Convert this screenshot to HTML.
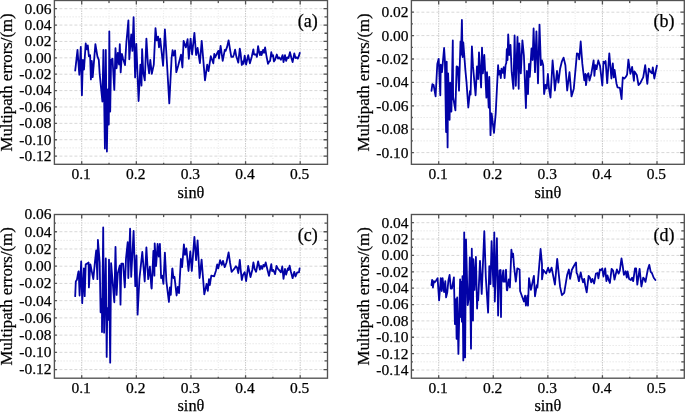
<!DOCTYPE html><html><head><meta charset="utf-8"><style>html,body{margin:0;padding:0;background:#fff;}svg{display:block;will-change:transform}text{font-family:"Liberation Serif",serif;fill:#000;stroke:#000;stroke-width:0.25px}</style></head><body>
<svg width="685" height="412" viewBox="0 0 685 412">
<line x1="81.71" y1="0.5" x2="81.71" y2="164.3" stroke="#c8c8c8" stroke-width="1" stroke-dasharray="1.5 1"/>
<line x1="109.02" y1="0.5" x2="109.02" y2="164.3" stroke="#e8e8e8" stroke-width="1" stroke-dasharray="1 1.5"/>
<line x1="136.33" y1="0.5" x2="136.33" y2="164.3" stroke="#c8c8c8" stroke-width="1" stroke-dasharray="1.5 1"/>
<line x1="163.64" y1="0.5" x2="163.64" y2="164.3" stroke="#e8e8e8" stroke-width="1" stroke-dasharray="1 1.5"/>
<line x1="190.95" y1="0.5" x2="190.95" y2="164.3" stroke="#c8c8c8" stroke-width="1" stroke-dasharray="1.5 1"/>
<line x1="218.26" y1="0.5" x2="218.26" y2="164.3" stroke="#e8e8e8" stroke-width="1" stroke-dasharray="1 1.5"/>
<line x1="245.57" y1="0.5" x2="245.57" y2="164.3" stroke="#c8c8c8" stroke-width="1" stroke-dasharray="1.5 1"/>
<line x1="272.88" y1="0.5" x2="272.88" y2="164.3" stroke="#e8e8e8" stroke-width="1" stroke-dasharray="1 1.5"/>
<line x1="300.19" y1="0.5" x2="300.19" y2="164.3" stroke="#c8c8c8" stroke-width="1" stroke-dasharray="1.5 1"/>
<line x1="54.4" y1="156.11" x2="327.5" y2="156.11" stroke="#d8d8d8" stroke-width="1" stroke-dasharray="3 2"/>
<line x1="54.4" y1="147.92" x2="327.5" y2="147.92" stroke="#e8e8e8" stroke-width="1" stroke-dasharray="1.5 1.5"/>
<line x1="54.4" y1="139.73" x2="327.5" y2="139.73" stroke="#d8d8d8" stroke-width="1" stroke-dasharray="3 2"/>
<line x1="54.4" y1="131.54" x2="327.5" y2="131.54" stroke="#e8e8e8" stroke-width="1" stroke-dasharray="1.5 1.5"/>
<line x1="54.4" y1="123.35" x2="327.5" y2="123.35" stroke="#d8d8d8" stroke-width="1" stroke-dasharray="3 2"/>
<line x1="54.4" y1="115.16" x2="327.5" y2="115.16" stroke="#e8e8e8" stroke-width="1" stroke-dasharray="1.5 1.5"/>
<line x1="54.4" y1="106.97" x2="327.5" y2="106.97" stroke="#d8d8d8" stroke-width="1" stroke-dasharray="3 2"/>
<line x1="54.4" y1="98.78" x2="327.5" y2="98.78" stroke="#e8e8e8" stroke-width="1" stroke-dasharray="1.5 1.5"/>
<line x1="54.4" y1="90.59" x2="327.5" y2="90.59" stroke="#d8d8d8" stroke-width="1" stroke-dasharray="3 2"/>
<line x1="54.4" y1="82.40" x2="327.5" y2="82.40" stroke="#e8e8e8" stroke-width="1" stroke-dasharray="1.5 1.5"/>
<line x1="54.4" y1="74.21" x2="327.5" y2="74.21" stroke="#d8d8d8" stroke-width="1" stroke-dasharray="3 2"/>
<line x1="54.4" y1="66.02" x2="327.5" y2="66.02" stroke="#e8e8e8" stroke-width="1" stroke-dasharray="1.5 1.5"/>
<line x1="54.4" y1="57.83" x2="327.5" y2="57.83" stroke="#d8d8d8" stroke-width="1" stroke-dasharray="3 2"/>
<line x1="54.4" y1="49.64" x2="327.5" y2="49.64" stroke="#e8e8e8" stroke-width="1" stroke-dasharray="1.5 1.5"/>
<line x1="54.4" y1="41.45" x2="327.5" y2="41.45" stroke="#d8d8d8" stroke-width="1" stroke-dasharray="3 2"/>
<line x1="54.4" y1="33.26" x2="327.5" y2="33.26" stroke="#e8e8e8" stroke-width="1" stroke-dasharray="1.5 1.5"/>
<line x1="54.4" y1="25.07" x2="327.5" y2="25.07" stroke="#d8d8d8" stroke-width="1" stroke-dasharray="3 2"/>
<line x1="54.4" y1="16.88" x2="327.5" y2="16.88" stroke="#e8e8e8" stroke-width="1" stroke-dasharray="1.5 1.5"/>
<line x1="54.4" y1="8.69" x2="327.5" y2="8.69" stroke="#d8d8d8" stroke-width="1" stroke-dasharray="3 2"/>
<polyline points="75.2,70.7 77.5,49.9 79.3,74.8 80.8,46.8 81.9,95.2 82.9,59.9 84.0,69.5 85.7,43.5 86.8,49.4 87.8,45.3 88.9,56.4 90.1,55.2 90.9,79.4 91.8,61.0 92.7,77.1 95.4,44.1 97.4,56.4 98.8,59.9 99.7,74.2 102.4,101.6 103.4,49.9 104.9,148.5 105.8,49.9 106.9,151.5 107.9,89.4 108.8,124.6 109.3,31.3 110.2,111.5 111.1,59.9 112.5,58.7 114.3,89.9 115.5,48.2 116.6,68.3 117.8,52.9 119.0,64.5 119.8,44.1 120.7,72.4 121.9,54.0 123.1,58.7 125.0,65.1 126.3,43.5 128.4,20.3 129.3,59.3 131.2,34.5 132.4,50.9 133.6,17.2 135.1,77.4 136.3,43.9 138.6,101.0 140.4,64.6 141.5,85.6 142.1,49.1 143.3,72.8 144.8,80.4 146.4,38.6 147.9,64.0 149.1,73.4 150.3,59.9 151.8,73.9 153.8,64.6 155.5,28.1 156.7,40.4 158.1,36.6 159.0,47.4 160.2,38.6 163.1,65.8 164.9,29.3 166.6,57.0 169.3,103.4 171.6,58.0 172.6,50.2 173.7,55.5 175.1,50.5 176.3,72.2 178.3,65.2 181.0,54.7 182.4,67.5 183.6,40.9 185.9,47.4 187.6,39.2 188.8,58.8 190.6,38.6 192.1,54.5 194.4,32.8 196.1,55.0 197.6,48.0 199.9,63.2 201.7,40.8 205.0,80.4 207.2,64.6 208.5,71.2 210.8,56.2 213.3,63.3 214.3,53.9 215.1,57.4 218.3,50.9 219.0,58.5 220.6,45.9 222.7,60.9 224.8,49.8 225.6,50.9 227.1,46.9 228.6,40.3 230.1,49.9 231.3,56.9 233.0,56.9 233.9,54.5 235.1,49.6 236.3,56.3 237.4,59.8 238.3,62.7 239.8,48.7 240.6,53.4 241.8,65.0 242.9,61.5 243.5,63.9 244.7,55.7 246.1,64.5 248.2,55.1 249.9,63.3 251.7,56.9 253.4,49.3 254.0,54.5 256.1,54.5 256.9,56.9 258.1,46.1 259.3,52.8 259.9,55.1 261.0,51.6 261.6,55.1 263.1,49.9 264.0,52.8 265.1,47.5 266.3,55.1 268.0,63.9 269.2,61.5 270.1,60.9 271.3,52.2 272.1,56.3 273.1,55.1 273.9,61.5 275.1,59.8 276.8,54.5 278.0,58.6 279.1,57.4 280.9,59.8 282.6,55.1 283.5,62.1 285.0,55.1 286.1,60.9 287.3,57.4 288.5,58.0 290.0,52.2 291.4,58.0 292.6,62.1 294.3,53.4 295.5,58.0 296.7,57.4 297.8,58.6 299.0,55.7 299.8,52.8" fill="none" stroke="#0202a6" stroke-width="1.8" stroke-linejoin="round" stroke-linecap="round"/>
<path d="M54.4,156.11h2.5M327.5,156.11h-4.0M54.4,147.92h1.5M327.5,147.92h-3.0M54.4,139.73h2.5M327.5,139.73h-4.0M54.4,131.54h1.5M327.5,131.54h-3.0M54.4,123.35h2.5M327.5,123.35h-4.0M54.4,115.16h1.5M327.5,115.16h-3.0M54.4,106.97h2.5M327.5,106.97h-4.0M54.4,98.78h1.5M327.5,98.78h-3.0M54.4,90.59h2.5M327.5,90.59h-4.0M54.4,82.40h1.5M327.5,82.40h-3.0M54.4,74.21h2.5M327.5,74.21h-4.0M54.4,66.02h1.5M327.5,66.02h-3.0M54.4,57.83h2.5M327.5,57.83h-4.0M54.4,49.64h1.5M327.5,49.64h-3.0M54.4,41.45h2.5M327.5,41.45h-4.0M54.4,33.26h1.5M327.5,33.26h-3.0M54.4,25.07h2.5M327.5,25.07h-4.0M54.4,16.88h1.5M327.5,16.88h-3.0M54.4,8.69h2.5M327.5,8.69h-4.0M81.71,164.3v-3M81.71,0.5v4M109.02,164.3v-1.5M109.02,0.5v2.5M136.33,164.3v-3M136.33,0.5v4M163.64,164.3v-1.5M163.64,0.5v2.5M190.95,164.3v-3M190.95,0.5v4M218.26,164.3v-1.5M218.26,0.5v2.5M245.57,164.3v-3M245.57,0.5v4M272.88,164.3v-1.5M272.88,0.5v2.5M300.19,164.3v-3M300.19,0.5v4" stroke="#525252" stroke-width="1.3" fill="none"/>
<rect x="54.4" y="0.5" width="273.10" height="163.80" fill="none" stroke="#525252" stroke-width="1.35"/>
<text x="51.60" y="13.59" font-size="15.5" text-anchor="end">0.06</text>
<text x="51.60" y="29.97" font-size="15.5" text-anchor="end">0.04</text>
<text x="51.60" y="46.35" font-size="15.5" text-anchor="end">0.02</text>
<text x="51.60" y="62.73" font-size="15.5" text-anchor="end">0.00</text>
<text x="51.60" y="79.11" font-size="15.5" text-anchor="end">-0.02</text>
<text x="51.60" y="95.49" font-size="15.5" text-anchor="end">-0.04</text>
<text x="51.60" y="111.87" font-size="15.5" text-anchor="end">-0.06</text>
<text x="51.60" y="128.25" font-size="15.5" text-anchor="end">-0.08</text>
<text x="51.60" y="144.63" font-size="15.5" text-anchor="end">-0.10</text>
<text x="51.60" y="161.01" font-size="15.5" text-anchor="end">-0.12</text>
<text x="81.11" y="178.80" font-size="15.5" text-anchor="middle">0.1</text>
<text x="135.73" y="178.80" font-size="15.5" text-anchor="middle">0.2</text>
<text x="190.35" y="178.80" font-size="15.5" text-anchor="middle">0.3</text>
<text x="244.97" y="178.80" font-size="15.5" text-anchor="middle">0.4</text>
<text x="299.59" y="178.80" font-size="15.5" text-anchor="middle">0.5</text>
<text x="190.95" y="197.50" font-size="16.3" text-anchor="middle">sinθ</text>
<text transform="translate(12.20,82.40) rotate(-90)" x="0" y="0" font-size="16.75" text-anchor="middle">Multipath errors/(m)</text>
<text x="317.80" y="26.70" font-size="18" text-anchor="end">(a)</text>
<line x1="438.69" y1="0.5" x2="438.69" y2="164.3" stroke="#c8c8c8" stroke-width="1" stroke-dasharray="1.5 1"/>
<line x1="465.98" y1="0.5" x2="465.98" y2="164.3" stroke="#e8e8e8" stroke-width="1" stroke-dasharray="1 1.5"/>
<line x1="493.27" y1="0.5" x2="493.27" y2="164.3" stroke="#c8c8c8" stroke-width="1" stroke-dasharray="1.5 1"/>
<line x1="520.56" y1="0.5" x2="520.56" y2="164.3" stroke="#e8e8e8" stroke-width="1" stroke-dasharray="1 1.5"/>
<line x1="547.85" y1="0.5" x2="547.85" y2="164.3" stroke="#c8c8c8" stroke-width="1" stroke-dasharray="1.5 1"/>
<line x1="575.14" y1="0.5" x2="575.14" y2="164.3" stroke="#e8e8e8" stroke-width="1" stroke-dasharray="1 1.5"/>
<line x1="602.43" y1="0.5" x2="602.43" y2="164.3" stroke="#c8c8c8" stroke-width="1" stroke-dasharray="1.5 1"/>
<line x1="629.72" y1="0.5" x2="629.72" y2="164.3" stroke="#e8e8e8" stroke-width="1" stroke-dasharray="1 1.5"/>
<line x1="657.01" y1="0.5" x2="657.01" y2="164.3" stroke="#c8c8c8" stroke-width="1" stroke-dasharray="1.5 1"/>
<line x1="411.4" y1="152.60" x2="684.3" y2="152.60" stroke="#d8d8d8" stroke-width="1" stroke-dasharray="3 2"/>
<line x1="411.4" y1="140.90" x2="684.3" y2="140.90" stroke="#e8e8e8" stroke-width="1" stroke-dasharray="1.5 1.5"/>
<line x1="411.4" y1="129.20" x2="684.3" y2="129.20" stroke="#d8d8d8" stroke-width="1" stroke-dasharray="3 2"/>
<line x1="411.4" y1="117.50" x2="684.3" y2="117.50" stroke="#e8e8e8" stroke-width="1" stroke-dasharray="1.5 1.5"/>
<line x1="411.4" y1="105.80" x2="684.3" y2="105.80" stroke="#d8d8d8" stroke-width="1" stroke-dasharray="3 2"/>
<line x1="411.4" y1="94.10" x2="684.3" y2="94.10" stroke="#e8e8e8" stroke-width="1" stroke-dasharray="1.5 1.5"/>
<line x1="411.4" y1="82.40" x2="684.3" y2="82.40" stroke="#d8d8d8" stroke-width="1" stroke-dasharray="3 2"/>
<line x1="411.4" y1="70.70" x2="684.3" y2="70.70" stroke="#e8e8e8" stroke-width="1" stroke-dasharray="1.5 1.5"/>
<line x1="411.4" y1="59.00" x2="684.3" y2="59.00" stroke="#d8d8d8" stroke-width="1" stroke-dasharray="3 2"/>
<line x1="411.4" y1="47.30" x2="684.3" y2="47.30" stroke="#e8e8e8" stroke-width="1" stroke-dasharray="1.5 1.5"/>
<line x1="411.4" y1="35.60" x2="684.3" y2="35.60" stroke="#d8d8d8" stroke-width="1" stroke-dasharray="3 2"/>
<line x1="411.4" y1="23.90" x2="684.3" y2="23.90" stroke="#e8e8e8" stroke-width="1" stroke-dasharray="1.5 1.5"/>
<line x1="411.4" y1="12.20" x2="684.3" y2="12.20" stroke="#d8d8d8" stroke-width="1" stroke-dasharray="3 2"/>
<polyline points="431.5,90.9 432.4,84.1 433.6,85.0 435.6,96.4 437.3,64.0 438.7,58.8 440.3,95.3 440.8,64.6 442.0,72.2 444.1,48.0 444.9,60.5 446.1,132.0 446.7,61.7 447.6,147.4 448.1,73.4 449.6,119.8 450.2,82.7 451.4,111.6 452.8,40.4 453.1,97.0 455.4,110.4 456.6,66.4 457.8,67.0 459.0,90.6 460.5,41.5 461.0,54.7 461.9,19.9 462.6,57.0 463.3,42.5 465.4,70.4 466.5,82.1 468.3,107.5 470.0,90.9 470.6,94.7 471.9,46.4 473.0,66.4 475.6,95.3 477.0,66.4 478.2,79.2 479.0,52.3 481.1,87.4 482.0,47.6 482.9,73.4 484.3,55.0 486.4,97.6 487.0,72.2 488.7,107.5 489.3,76.9 490.5,135.2 491.6,113.4 494.0,132.8 495.7,113.4 498.1,65.2 498.8,74.5 499.8,70.9 500.8,78.2 501.5,68.7 502.7,72.8 503.7,67.2 504.6,78.2 505.6,65.0 506.3,63.0 506.8,49.1 507.5,60.0 508.2,34.5 509.3,55.0 510.5,45.0 511.7,72.2 513.4,88.8 514.6,35.5 515.8,85.8 517.5,36.9 518.7,88.8 519.3,43.3 520.8,73.4 522.4,40.4 523.9,55.5 525.9,108.0 526.9,71.0 528.0,94.0 529.0,64.0 529.8,76.9 531.5,48.5 532.6,60.0 533.6,28.5 535.0,72.2 536.4,31.3 538.0,83.3 539.5,24.6 540.9,65.2 542.0,60.5 543.2,65.2 544.1,94.0 545.5,85.0 546.7,88.5 547.9,74.0 549.0,88.5 550.5,97.5 552.6,60.5 553.7,73.4 554.9,90.5 557.0,71.0 558.4,82.7 560.1,68.7 561.8,61.7 563.6,57.6 565.4,65.2 567.2,90.5 569.5,72.2 571.5,96.4 573.8,88.7 576.1,62.8 576.9,53.4 578.4,54.0 579.2,59.3 579.9,51.7 580.7,41.5 582.3,63.4 583.1,70.4 584.3,80.3 585.4,73.9 586.0,85.2 587.2,75.1 588.4,73.3 589.5,80.5 591.3,73.9 593.6,60.4 594.4,75.8 595.4,65.1 596.5,69.2 598.3,60.4 600.0,65.7 602.3,85.5 603.5,61.6 604.7,63.4 605.6,61.0 607.2,83.2 609.3,53.4 611.4,78.5 612.8,63.4 613.8,77.4 614.6,69.8 616.4,83.2 617.5,87.3 619.9,87.9 621.6,99.2 622.2,86.7 622.8,77.4 624.5,78.5 625.9,76.8 627.1,74.5 628.4,59.6 630.4,73.9 632.1,66.9 633.9,80.9 634.5,71.5 636.8,75.0 638.5,85.0 640.3,83.2 642.0,79.7 643.2,77.4 645.2,65.1 647.3,83.8 648.8,68.6 650.2,71.5 652.0,73.3 652.8,67.4 654.3,78.5 656.9,65.7" fill="none" stroke="#0202a6" stroke-width="1.8" stroke-linejoin="round" stroke-linecap="round"/>
<path d="M411.4,152.60h2.5M684.3,152.60h-4.0M411.4,140.90h1.5M684.3,140.90h-3.0M411.4,129.20h2.5M684.3,129.20h-4.0M411.4,117.50h1.5M684.3,117.50h-3.0M411.4,105.80h2.5M684.3,105.80h-4.0M411.4,94.10h1.5M684.3,94.10h-3.0M411.4,82.40h2.5M684.3,82.40h-4.0M411.4,70.70h1.5M684.3,70.70h-3.0M411.4,59.00h2.5M684.3,59.00h-4.0M411.4,47.30h1.5M684.3,47.30h-3.0M411.4,35.60h2.5M684.3,35.60h-4.0M411.4,23.90h1.5M684.3,23.90h-3.0M411.4,12.20h2.5M684.3,12.20h-4.0M438.69,164.3v-3M438.69,0.5v4M465.98,164.3v-1.5M465.98,0.5v2.5M493.27,164.3v-3M493.27,0.5v4M520.56,164.3v-1.5M520.56,0.5v2.5M547.85,164.3v-3M547.85,0.5v4M575.14,164.3v-1.5M575.14,0.5v2.5M602.43,164.3v-3M602.43,0.5v4M629.72,164.3v-1.5M629.72,0.5v2.5M657.01,164.3v-3M657.01,0.5v4" stroke="#525252" stroke-width="1.3" fill="none"/>
<rect x="411.4" y="0.5" width="272.90" height="163.80" fill="none" stroke="#525252" stroke-width="1.35"/>
<text x="408.60" y="17.10" font-size="15.5" text-anchor="end">0.02</text>
<text x="408.60" y="40.50" font-size="15.5" text-anchor="end">0.00</text>
<text x="408.60" y="63.90" font-size="15.5" text-anchor="end">-0.02</text>
<text x="408.60" y="87.30" font-size="15.5" text-anchor="end">-0.04</text>
<text x="408.60" y="110.70" font-size="15.5" text-anchor="end">-0.06</text>
<text x="408.60" y="134.10" font-size="15.5" text-anchor="end">-0.08</text>
<text x="408.60" y="157.50" font-size="15.5" text-anchor="end">-0.10</text>
<text x="438.09" y="178.80" font-size="15.5" text-anchor="middle">0.1</text>
<text x="492.67" y="178.80" font-size="15.5" text-anchor="middle">0.2</text>
<text x="547.25" y="178.80" font-size="15.5" text-anchor="middle">0.3</text>
<text x="601.83" y="178.80" font-size="15.5" text-anchor="middle">0.4</text>
<text x="656.41" y="178.80" font-size="15.5" text-anchor="middle">0.5</text>
<text x="547.85" y="197.50" font-size="16.3" text-anchor="middle">sinθ</text>
<text transform="translate(369.20,82.40) rotate(-90)" x="0" y="0" font-size="16.75" text-anchor="middle">Multipath errors/(m)</text>
<text x="674.60" y="26.70" font-size="18" text-anchor="end">(b)</text>
<line x1="81.71" y1="214.5" x2="81.71" y2="378.2" stroke="#c8c8c8" stroke-width="1" stroke-dasharray="1.5 1"/>
<line x1="109.02" y1="214.5" x2="109.02" y2="378.2" stroke="#e8e8e8" stroke-width="1" stroke-dasharray="1 1.5"/>
<line x1="136.33" y1="214.5" x2="136.33" y2="378.2" stroke="#c8c8c8" stroke-width="1" stroke-dasharray="1.5 1"/>
<line x1="163.64" y1="214.5" x2="163.64" y2="378.2" stroke="#e8e8e8" stroke-width="1" stroke-dasharray="1 1.5"/>
<line x1="190.95" y1="214.5" x2="190.95" y2="378.2" stroke="#c8c8c8" stroke-width="1" stroke-dasharray="1.5 1"/>
<line x1="218.26" y1="214.5" x2="218.26" y2="378.2" stroke="#e8e8e8" stroke-width="1" stroke-dasharray="1 1.5"/>
<line x1="245.57" y1="214.5" x2="245.57" y2="378.2" stroke="#c8c8c8" stroke-width="1" stroke-dasharray="1.5 1"/>
<line x1="272.88" y1="214.5" x2="272.88" y2="378.2" stroke="#e8e8e8" stroke-width="1" stroke-dasharray="1 1.5"/>
<line x1="300.19" y1="214.5" x2="300.19" y2="378.2" stroke="#c8c8c8" stroke-width="1" stroke-dasharray="1.5 1"/>
<line x1="54.4" y1="369.58" x2="327.5" y2="369.58" stroke="#d8d8d8" stroke-width="1" stroke-dasharray="3 2"/>
<line x1="54.4" y1="360.97" x2="327.5" y2="360.97" stroke="#e8e8e8" stroke-width="1" stroke-dasharray="1.5 1.5"/>
<line x1="54.4" y1="352.35" x2="327.5" y2="352.35" stroke="#d8d8d8" stroke-width="1" stroke-dasharray="3 2"/>
<line x1="54.4" y1="343.74" x2="327.5" y2="343.74" stroke="#e8e8e8" stroke-width="1" stroke-dasharray="1.5 1.5"/>
<line x1="54.4" y1="335.12" x2="327.5" y2="335.12" stroke="#d8d8d8" stroke-width="1" stroke-dasharray="3 2"/>
<line x1="54.4" y1="326.51" x2="327.5" y2="326.51" stroke="#e8e8e8" stroke-width="1" stroke-dasharray="1.5 1.5"/>
<line x1="54.4" y1="317.89" x2="327.5" y2="317.89" stroke="#d8d8d8" stroke-width="1" stroke-dasharray="3 2"/>
<line x1="54.4" y1="309.27" x2="327.5" y2="309.27" stroke="#e8e8e8" stroke-width="1" stroke-dasharray="1.5 1.5"/>
<line x1="54.4" y1="300.66" x2="327.5" y2="300.66" stroke="#d8d8d8" stroke-width="1" stroke-dasharray="3 2"/>
<line x1="54.4" y1="292.04" x2="327.5" y2="292.04" stroke="#e8e8e8" stroke-width="1" stroke-dasharray="1.5 1.5"/>
<line x1="54.4" y1="283.43" x2="327.5" y2="283.43" stroke="#d8d8d8" stroke-width="1" stroke-dasharray="3 2"/>
<line x1="54.4" y1="274.81" x2="327.5" y2="274.81" stroke="#e8e8e8" stroke-width="1" stroke-dasharray="1.5 1.5"/>
<line x1="54.4" y1="266.19" x2="327.5" y2="266.19" stroke="#d8d8d8" stroke-width="1" stroke-dasharray="3 2"/>
<line x1="54.4" y1="257.58" x2="327.5" y2="257.58" stroke="#e8e8e8" stroke-width="1" stroke-dasharray="1.5 1.5"/>
<line x1="54.4" y1="248.96" x2="327.5" y2="248.96" stroke="#d8d8d8" stroke-width="1" stroke-dasharray="3 2"/>
<line x1="54.4" y1="240.35" x2="327.5" y2="240.35" stroke="#e8e8e8" stroke-width="1" stroke-dasharray="1.5 1.5"/>
<line x1="54.4" y1="231.73" x2="327.5" y2="231.73" stroke="#d8d8d8" stroke-width="1" stroke-dasharray="3 2"/>
<line x1="54.4" y1="223.12" x2="327.5" y2="223.12" stroke="#e8e8e8" stroke-width="1" stroke-dasharray="1.5 1.5"/>
<polyline points="75.2,296.1 75.8,281.5 76.9,279.8 78.4,271.6 78.7,271.3 79.6,295.5 81.2,261.4 82.2,303.1 83.9,268.4 84.7,296.1 85.7,264.3 87.1,263.7 88.6,262.5 88.9,287.4 90.4,264.3 93.3,279.2 95.0,261.4 96.2,250.3 97.4,279.2 97.9,239.8 99.7,262.5 100.6,312.3 102.0,299.0 102.0,332.1 103.2,227.5 104.1,332.7 105.8,258.5 106.7,356.9 107.3,308.2 108.5,319.9 109.0,259.6 110.2,362.7 111.1,263.1 114.3,302.3 115.5,246.8 116.6,294.9 117.8,273.3 119.8,265.5 120.5,304.7 121.3,263.7 123.1,263.7 124.8,287.4 126.0,258.5 127.7,242.1 128.3,278.0 130.1,228.7 131.2,276.8 133.6,231.0 135.3,286.2 136.5,255.5 137.6,314.6 139.4,279.2 142.3,252.0 144.7,281.5 146.4,247.4 148.2,279.2 149.9,266.6 151.4,287.9 151.7,288.5 153.4,250.9 154.4,275.7 154.7,243.3 156.1,266.0 157.6,243.9 158.8,256.7 159.9,243.9 161.1,278.0 162.3,275.7 163.4,283.9 164.9,252.6 166.4,281.5 168.9,302.0 169.9,287.4 170.8,294.9 172.2,268.7 172.4,268.4 173.4,278.0 174.5,276.8 176.6,295.5 177.8,286.8 179.0,293.2 180.9,259.0 182.1,267.2 183.9,244.4 185.0,254.9 186.4,248.5 188.5,271.0 190.3,251.4 191.8,271.0 194.4,236.8 196.1,260.2 197.6,240.4 199.6,278.0 201.6,259.6 204.3,294.4 206.6,283.9 207.8,290.9 209.0,279.2 209.8,285.0 211.3,275.7 214.2,276.3 216.0,270.4 217.2,264.3 218.3,268.4 220.1,260.2 221.8,264.9 223.0,260.8 224.7,267.2 226.5,262.5 228.6,252.5 230.1,263.0 231.6,271.8 233.2,270.0 234.2,268.9 235.9,266.3 237.1,267.7 238.3,273.0 239.8,259.8 240.6,268.9 241.8,280.0 242.9,275.3 244.7,272.1 246.1,281.1 248.2,265.9 250.5,277.0 252.3,270.0 253.4,262.4 254.6,268.9 256.1,271.8 258.1,261.3 259.9,269.5 261.0,265.9 262.2,268.9 263.4,264.8 264.5,266.5 265.7,262.4 267.5,270.0 269.0,275.9 271.3,264.2 272.1,271.2 273.3,270.0 275.1,274.1 276.5,265.9 278.0,268.9 279.1,270.0 280.9,272.4 282.3,266.5 283.5,278.8 285.0,268.9 286.1,274.7 287.9,268.3 288.5,270.0 289.6,265.6 290.8,271.2 292.6,278.2 294.3,271.8 295.5,276.5 297.2,272.4 299.0,272.4 299.6,268.3" fill="none" stroke="#0202a6" stroke-width="1.8" stroke-linejoin="round" stroke-linecap="round"/>
<path d="M54.4,369.58h2.5M327.5,369.58h-4.0M54.4,360.97h1.5M327.5,360.97h-3.0M54.4,352.35h2.5M327.5,352.35h-4.0M54.4,343.74h1.5M327.5,343.74h-3.0M54.4,335.12h2.5M327.5,335.12h-4.0M54.4,326.51h1.5M327.5,326.51h-3.0M54.4,317.89h2.5M327.5,317.89h-4.0M54.4,309.27h1.5M327.5,309.27h-3.0M54.4,300.66h2.5M327.5,300.66h-4.0M54.4,292.04h1.5M327.5,292.04h-3.0M54.4,283.43h2.5M327.5,283.43h-4.0M54.4,274.81h1.5M327.5,274.81h-3.0M54.4,266.19h2.5M327.5,266.19h-4.0M54.4,257.58h1.5M327.5,257.58h-3.0M54.4,248.96h2.5M327.5,248.96h-4.0M54.4,240.35h1.5M327.5,240.35h-3.0M54.4,231.73h2.5M327.5,231.73h-4.0M54.4,223.12h1.5M327.5,223.12h-3.0M81.71,378.2v-3M81.71,214.5v4M109.02,378.2v-1.5M109.02,214.5v2.5M136.33,378.2v-3M136.33,214.5v4M163.64,378.2v-1.5M163.64,214.5v2.5M190.95,378.2v-3M190.95,214.5v4M218.26,378.2v-1.5M218.26,214.5v2.5M245.57,378.2v-3M245.57,214.5v4M272.88,378.2v-1.5M272.88,214.5v2.5M300.19,378.2v-3M300.19,214.5v4" stroke="#525252" stroke-width="1.3" fill="none"/>
<rect x="54.4" y="214.5" width="273.10" height="163.70" fill="none" stroke="#525252" stroke-width="1.35"/>
<text x="51.60" y="219.40" font-size="15.5" text-anchor="end">0.06</text>
<text x="51.60" y="236.63" font-size="15.5" text-anchor="end">0.04</text>
<text x="51.60" y="253.86" font-size="15.5" text-anchor="end">0.02</text>
<text x="51.60" y="271.09" font-size="15.5" text-anchor="end">0.00</text>
<text x="51.60" y="288.33" font-size="15.5" text-anchor="end">-0.02</text>
<text x="51.60" y="305.56" font-size="15.5" text-anchor="end">-0.04</text>
<text x="51.60" y="322.79" font-size="15.5" text-anchor="end">-0.06</text>
<text x="51.60" y="340.02" font-size="15.5" text-anchor="end">-0.08</text>
<text x="51.60" y="357.25" font-size="15.5" text-anchor="end">-0.10</text>
<text x="51.60" y="374.48" font-size="15.5" text-anchor="end">-0.12</text>
<text x="81.11" y="392.70" font-size="15.5" text-anchor="middle">0.1</text>
<text x="135.73" y="392.70" font-size="15.5" text-anchor="middle">0.2</text>
<text x="190.35" y="392.70" font-size="15.5" text-anchor="middle">0.3</text>
<text x="244.97" y="392.70" font-size="15.5" text-anchor="middle">0.4</text>
<text x="299.59" y="392.70" font-size="15.5" text-anchor="middle">0.5</text>
<text x="190.95" y="411.40" font-size="16.3" text-anchor="middle">sinθ</text>
<text transform="translate(12.20,296.35) rotate(-90)" x="0" y="0" font-size="16.75" text-anchor="middle">Multipath errors/(m)</text>
<text x="317.80" y="240.70" font-size="18" text-anchor="end">(c)</text>
<line x1="438.69" y1="214.5" x2="438.69" y2="378.2" stroke="#c8c8c8" stroke-width="1" stroke-dasharray="1.5 1"/>
<line x1="465.98" y1="214.5" x2="465.98" y2="378.2" stroke="#e8e8e8" stroke-width="1" stroke-dasharray="1 1.5"/>
<line x1="493.27" y1="214.5" x2="493.27" y2="378.2" stroke="#c8c8c8" stroke-width="1" stroke-dasharray="1.5 1"/>
<line x1="520.56" y1="214.5" x2="520.56" y2="378.2" stroke="#e8e8e8" stroke-width="1" stroke-dasharray="1 1.5"/>
<line x1="547.85" y1="214.5" x2="547.85" y2="378.2" stroke="#c8c8c8" stroke-width="1" stroke-dasharray="1.5 1"/>
<line x1="575.14" y1="214.5" x2="575.14" y2="378.2" stroke="#e8e8e8" stroke-width="1" stroke-dasharray="1 1.5"/>
<line x1="602.43" y1="214.5" x2="602.43" y2="378.2" stroke="#c8c8c8" stroke-width="1" stroke-dasharray="1.5 1"/>
<line x1="629.72" y1="214.5" x2="629.72" y2="378.2" stroke="#e8e8e8" stroke-width="1" stroke-dasharray="1 1.5"/>
<line x1="657.01" y1="214.5" x2="657.01" y2="378.2" stroke="#c8c8c8" stroke-width="1" stroke-dasharray="1.5 1"/>
<line x1="411.4" y1="370.01" x2="684.3" y2="370.01" stroke="#d8d8d8" stroke-width="1" stroke-dasharray="3 2"/>
<line x1="411.4" y1="361.83" x2="684.3" y2="361.83" stroke="#e8e8e8" stroke-width="1" stroke-dasharray="1.5 1.5"/>
<line x1="411.4" y1="353.64" x2="684.3" y2="353.64" stroke="#d8d8d8" stroke-width="1" stroke-dasharray="3 2"/>
<line x1="411.4" y1="345.46" x2="684.3" y2="345.46" stroke="#e8e8e8" stroke-width="1" stroke-dasharray="1.5 1.5"/>
<line x1="411.4" y1="337.27" x2="684.3" y2="337.27" stroke="#d8d8d8" stroke-width="1" stroke-dasharray="3 2"/>
<line x1="411.4" y1="329.09" x2="684.3" y2="329.09" stroke="#e8e8e8" stroke-width="1" stroke-dasharray="1.5 1.5"/>
<line x1="411.4" y1="320.90" x2="684.3" y2="320.90" stroke="#d8d8d8" stroke-width="1" stroke-dasharray="3 2"/>
<line x1="411.4" y1="312.72" x2="684.3" y2="312.72" stroke="#e8e8e8" stroke-width="1" stroke-dasharray="1.5 1.5"/>
<line x1="411.4" y1="304.53" x2="684.3" y2="304.53" stroke="#d8d8d8" stroke-width="1" stroke-dasharray="3 2"/>
<line x1="411.4" y1="296.35" x2="684.3" y2="296.35" stroke="#e8e8e8" stroke-width="1" stroke-dasharray="1.5 1.5"/>
<line x1="411.4" y1="288.16" x2="684.3" y2="288.16" stroke="#d8d8d8" stroke-width="1" stroke-dasharray="3 2"/>
<line x1="411.4" y1="279.98" x2="684.3" y2="279.98" stroke="#e8e8e8" stroke-width="1" stroke-dasharray="1.5 1.5"/>
<line x1="411.4" y1="271.79" x2="684.3" y2="271.79" stroke="#d8d8d8" stroke-width="1" stroke-dasharray="3 2"/>
<line x1="411.4" y1="263.61" x2="684.3" y2="263.61" stroke="#e8e8e8" stroke-width="1" stroke-dasharray="1.5 1.5"/>
<line x1="411.4" y1="255.43" x2="684.3" y2="255.43" stroke="#d8d8d8" stroke-width="1" stroke-dasharray="3 2"/>
<line x1="411.4" y1="247.24" x2="684.3" y2="247.24" stroke="#e8e8e8" stroke-width="1" stroke-dasharray="1.5 1.5"/>
<line x1="411.4" y1="239.05" x2="684.3" y2="239.05" stroke="#d8d8d8" stroke-width="1" stroke-dasharray="3 2"/>
<line x1="411.4" y1="230.87" x2="684.3" y2="230.87" stroke="#e8e8e8" stroke-width="1" stroke-dasharray="1.5 1.5"/>
<line x1="411.4" y1="222.69" x2="684.3" y2="222.69" stroke="#d8d8d8" stroke-width="1" stroke-dasharray="3 2"/>
<polyline points="431.5,285.2 432.1,279.9 432.9,287.5 433.8,281.1 434.8,282.3 436.2,280.5 437.6,278.2 439.1,300.4 440.8,278.2 441.8,291.0 442.6,278.2 444.1,292.2 445.3,281.1 446.1,297.4 447.3,292.2 448.4,280.5 449.6,275.0 450.8,288.7 451.9,288.7 453.9,277.3 454.9,324.0 456.0,299.2 456.6,338.8 457.2,297.4 458.4,353.9 460.1,279.3 460.1,317.0 460.9,281.7 461.9,321.7 462.5,276.1 463.3,360.4 464.2,232.3 465.1,357.4 466.0,239.3 467.7,305.0 468.9,296.9 469.8,257.4 471.0,348.7 471.8,248.7 473.0,320.5 473.3,259.2 474.5,289.9 475.9,256.9 477.1,308.5 477.6,293.4 478.2,300.4 480.0,260.9 481.7,293.9 484.3,231.2 485.8,277.0 488.1,312.6 489.3,266.2 490.5,284.0 491.6,241.1 493.4,286.4 494.3,232.3 494.8,301.5 496.9,238.2 498.1,315.5 499.5,270.3 500.6,270.0 501.0,317.0 501.4,282.8 503.3,270.3 503.3,270.6 503.5,281.7 505.1,281.7 505.8,270.0 506.0,269.7 506.8,289.9 507.2,290.4 508.8,279.3 509.9,287.5 511.4,249.6 512.3,257.2 513.1,253.7 514.0,265.9 515.8,281.7 517.3,268.3 519.6,269.5 520.1,291.0 523.9,301.5 525.1,295.7 525.9,305.6 527.4,295.7 528.0,305.6 529.0,278.2 530.9,289.9 533.9,275.8 535.0,296.3 536.8,285.2 537.4,287.5 540.6,249.0 542.0,264.2 542.0,279.3 543.4,270.0 546.1,273.5 548.1,267.7 549.6,272.4 551.6,267.7 554.9,284.6 557.2,258.9 560.1,286.9 561.9,295.1 564.2,292.8 567.2,274.7 568.9,269.5 570.1,278.8 571.8,270.0 573.6,266.5 576.0,262.5 576.6,273.0 577.4,274.2 578.9,281.2 580.7,272.4 581.8,277.7 583.0,282.4 584.2,278.9 585.3,285.9 586.7,292.3 588.6,275.9 590.0,277.7 591.2,282.4 592.4,278.9 594.1,283.5 595.9,273.6 597.6,273.0 598.4,278.3 599.9,269.5 601.1,270.1 602.3,268.4 603.4,276.5 605.2,268.4 606.4,281.2 607.5,275.4 608.7,280.0 609.9,283.0 611.6,268.9 613.1,270.7 614.5,279.5 616.9,269.5 618.6,273.6 619.8,270.7 621.5,258.4 622.7,266.0 623.9,274.8 625.6,271.3 626.8,277.7 627.6,271.3 629.1,278.9 630.9,280.0 632.1,277.7 633.2,281.2 635.0,268.4 636.1,268.4 637.3,284.7 639.6,268.9 641.4,286.5 643.2,277.7 644.3,278.9 645.5,281.8 647.8,269.5 649.3,264.9 650.7,271.9 651.9,273.0 653.7,277.7 655.4,280.0" fill="none" stroke="#0202a6" stroke-width="1.8" stroke-linejoin="round" stroke-linecap="round"/>
<path d="M411.4,370.01h2.5M684.3,370.01h-4.0M411.4,361.83h1.5M684.3,361.83h-3.0M411.4,353.64h2.5M684.3,353.64h-4.0M411.4,345.46h1.5M684.3,345.46h-3.0M411.4,337.27h2.5M684.3,337.27h-4.0M411.4,329.09h1.5M684.3,329.09h-3.0M411.4,320.90h2.5M684.3,320.90h-4.0M411.4,312.72h1.5M684.3,312.72h-3.0M411.4,304.53h2.5M684.3,304.53h-4.0M411.4,296.35h1.5M684.3,296.35h-3.0M411.4,288.16h2.5M684.3,288.16h-4.0M411.4,279.98h1.5M684.3,279.98h-3.0M411.4,271.79h2.5M684.3,271.79h-4.0M411.4,263.61h1.5M684.3,263.61h-3.0M411.4,255.43h2.5M684.3,255.43h-4.0M411.4,247.24h1.5M684.3,247.24h-3.0M411.4,239.05h2.5M684.3,239.05h-4.0M411.4,230.87h1.5M684.3,230.87h-3.0M411.4,222.69h2.5M684.3,222.69h-4.0M438.69,378.2v-3M438.69,214.5v4M465.98,378.2v-1.5M465.98,214.5v2.5M493.27,378.2v-3M493.27,214.5v4M520.56,378.2v-1.5M520.56,214.5v2.5M547.85,378.2v-3M547.85,214.5v4M575.14,378.2v-1.5M575.14,214.5v2.5M602.43,378.2v-3M602.43,214.5v4M629.72,378.2v-1.5M629.72,214.5v2.5M657.01,378.2v-3M657.01,214.5v4" stroke="#525252" stroke-width="1.3" fill="none"/>
<rect x="411.4" y="214.5" width="272.90" height="163.70" fill="none" stroke="#525252" stroke-width="1.35"/>
<text x="408.60" y="227.59" font-size="15.5" text-anchor="end">0.04</text>
<text x="408.60" y="243.96" font-size="15.5" text-anchor="end">0.02</text>
<text x="408.60" y="260.32" font-size="15.5" text-anchor="end">0.00</text>
<text x="408.60" y="276.69" font-size="15.5" text-anchor="end">-0.02</text>
<text x="408.60" y="293.06" font-size="15.5" text-anchor="end">-0.04</text>
<text x="408.60" y="309.43" font-size="15.5" text-anchor="end">-0.06</text>
<text x="408.60" y="325.80" font-size="15.5" text-anchor="end">-0.08</text>
<text x="408.60" y="342.17" font-size="15.5" text-anchor="end">-0.10</text>
<text x="408.60" y="358.54" font-size="15.5" text-anchor="end">-0.12</text>
<text x="408.60" y="374.91" font-size="15.5" text-anchor="end">-0.14</text>
<text x="438.09" y="392.70" font-size="15.5" text-anchor="middle">0.1</text>
<text x="492.67" y="392.70" font-size="15.5" text-anchor="middle">0.2</text>
<text x="547.25" y="392.70" font-size="15.5" text-anchor="middle">0.3</text>
<text x="601.83" y="392.70" font-size="15.5" text-anchor="middle">0.4</text>
<text x="656.41" y="392.70" font-size="15.5" text-anchor="middle">0.5</text>
<text x="547.85" y="411.40" font-size="16.3" text-anchor="middle">sinθ</text>
<text transform="translate(369.20,296.35) rotate(-90)" x="0" y="0" font-size="16.75" text-anchor="middle">Multipath errors/(m)</text>
<text x="674.60" y="240.70" font-size="18" text-anchor="end">(d)</text>
</svg></body></html>
